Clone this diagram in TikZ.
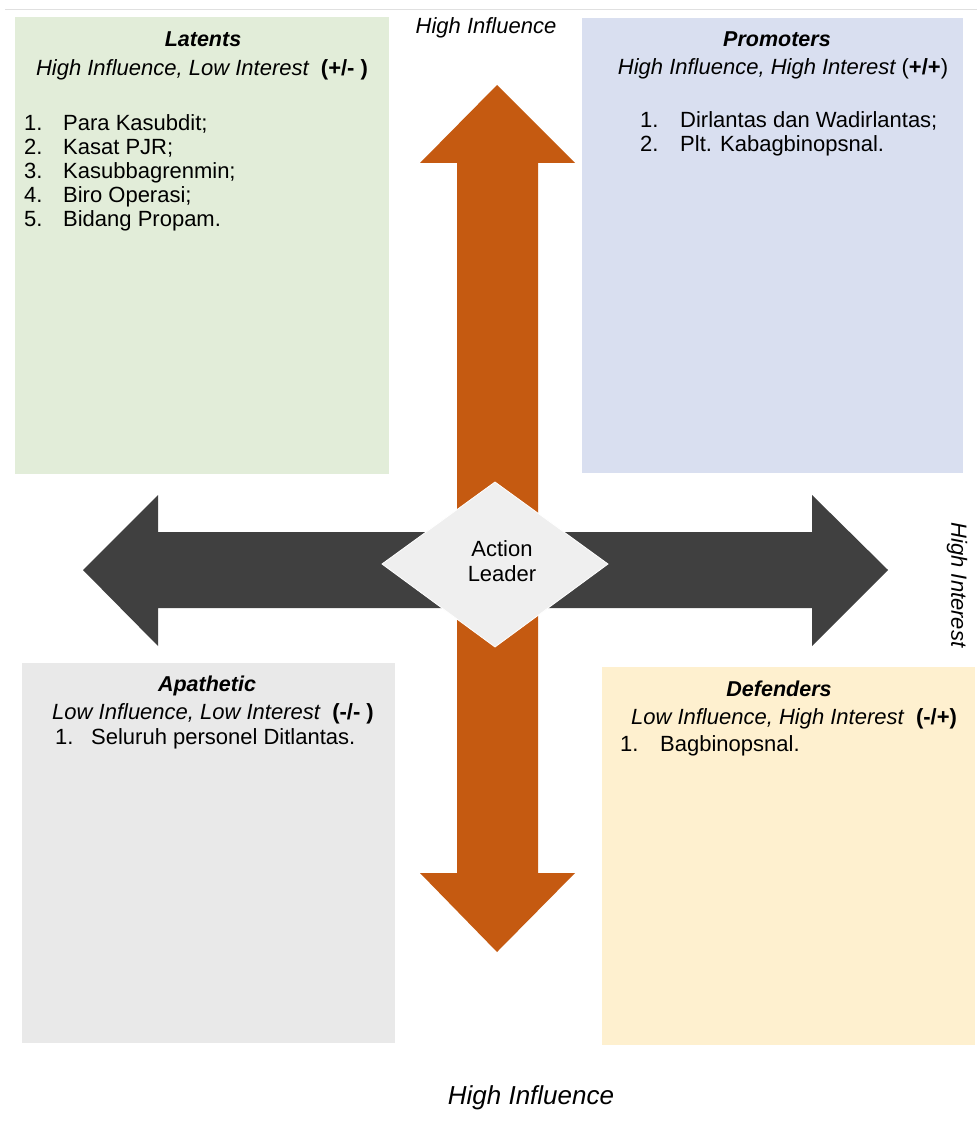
\documentclass[tikz,border=0pt]{standalone}
\usepackage{fontspec}
\setmainfont{Liberation Sans}
\definecolor{latgreen}{HTML}{E2EDD9}
\definecolor{promblue}{HTML}{D9DFF0}
\definecolor{apagray}{HTML}{E9E9E9}
\definecolor{defyellow}{HTML}{FEF0CF}
\definecolor{infl}{HTML}{C55A11}
\definecolor{intr}{HTML}{404040}
\definecolor{diamfill}{HTML}{EFEFEF}
\tikzset{
  ttl/.style={anchor=base, inner sep=0pt, font=\fontsize{21.5}{25}\selectfont\bfseries\itshape},
  sub/.style={anchor=base, inner sep=0pt, font=\fontsize{22}{25}\selectfont\itshape},
  item/.style={anchor=base west, inner sep=0pt, font=\fontsize{22}{25}\selectfont},
  axislbl/.style={inner sep=0pt, font=\fontsize{22}{25}\selectfont\itshape},
}
\newcommand{\numlbl}[2]{\makebox[#1][l]{#2}}
\begin{document}
\begin{tikzpicture}[x=1pt,y=-1pt]
\fill[white] (0,0) rectangle (977,1131);
\useasboundingbox (0,0) rectangle (977,1131);
\draw[black!12, line width=0.8pt] (5,9) -- (977,9);
% quadrant boxes
\fill[latgreen]  (15,17)  rectangle (389,474);
\fill[promblue]  (582,18) rectangle (963,473);
\fill[apagray]   (22,663) rectangle (395,1043);
\fill[defyellow] (602,667) rectangle (975,1045);
% vertical influence arrow
\fill[infl] (497,85) -- (575,163) -- (538,163) -- (538,873) -- (575,873) -- (497,952)
  -- (420,873) -- (457,873) -- (457,163) -- (420,163) -- cycle;
% horizontal interest arrow
\fill[intr] (83,570) -- (158,495) -- (158,532) -- (812,532) -- (812,495) -- (888,570)
  -- (812,646) -- (812,608) -- (158,608) -- (158,646) -- cycle;
% diamond
\filldraw[fill=diamfill, draw=white, line width=0.8pt] (382,564) -- (495,482) -- (608,564) -- (495,647) -- cycle;
\node[item, anchor=base] (al1) at (502,556) {Action};
\node[item, anchor=base] (al2) at (502,581) {Leader};
% axis labels
\node[axislbl, anchor=base] (topinf) at (486,34) {High Influence};
\node[axislbl, anchor=base, font=\fontsize{26}{30}\selectfont\itshape] (botinf) at (531,1104) {High Influence};
\node[axislbl, rotate=-90] (hint) at (957,585) {High Interest};
% Latents
\node[ttl] (latt) at (203,47) {Latents};
\node[sub] (lats) at (202,76) {High Influence, Low Interest\ \ \textbf{\upshape(+/-\ )}};
\node[item] (lat1) at (24,131) {\numlbl{39pt}{1.}Para Kasubdit;};
\node[item] (lat2) at (24,155) {\numlbl{39pt}{2.}Kasat PJR;};
\node[item] (lat3) at (24,179) {\numlbl{39pt}{3.}Kasubbagrenmin;};
\node[item] (lat4) at (24,203) {\numlbl{39pt}{4.}Biro Operasi;};
\node[item] (lat5) at (24,227) {\numlbl{39pt}{5.}Bidang Propam.};
% Promoters
\node[ttl] (prot) at (777,47) {Promoters};
\node[sub] (pros) at (783,75) {High Influence, High Interest \upshape(\textbf{+/+})};
\node[item] (pro1) at (640,128) {\numlbl{40pt}{1.}Dirlantas dan Wadirlantas;};
\node[item] (pro2) at (640,152) {\numlbl{40pt}{2.}Plt. Kabagbinopsnal.};
% Apathetic
\node[ttl] (apat) at (207,691) {Apathetic};
\node[sub] (apas) at (213,719) {Low Influence, Low Interest\ \ \textbf{\upshape(-/-\ )}};
\node[item] (apa1) at (55,744) {\numlbl{36pt}{1.}Seluruh personel Ditlantas.};
% Defenders
\node[ttl] (deft) at (779,696) {Defenders};
\node[sub] (defs) at (794,724) {Low Influence, High Interest\ \ \textbf{\upshape(-/+)}};
\node[item] (def1) at (620,751) {\numlbl{40pt}{1.}Bagbinopsnal.};
\end{tikzpicture}
\end{document}
